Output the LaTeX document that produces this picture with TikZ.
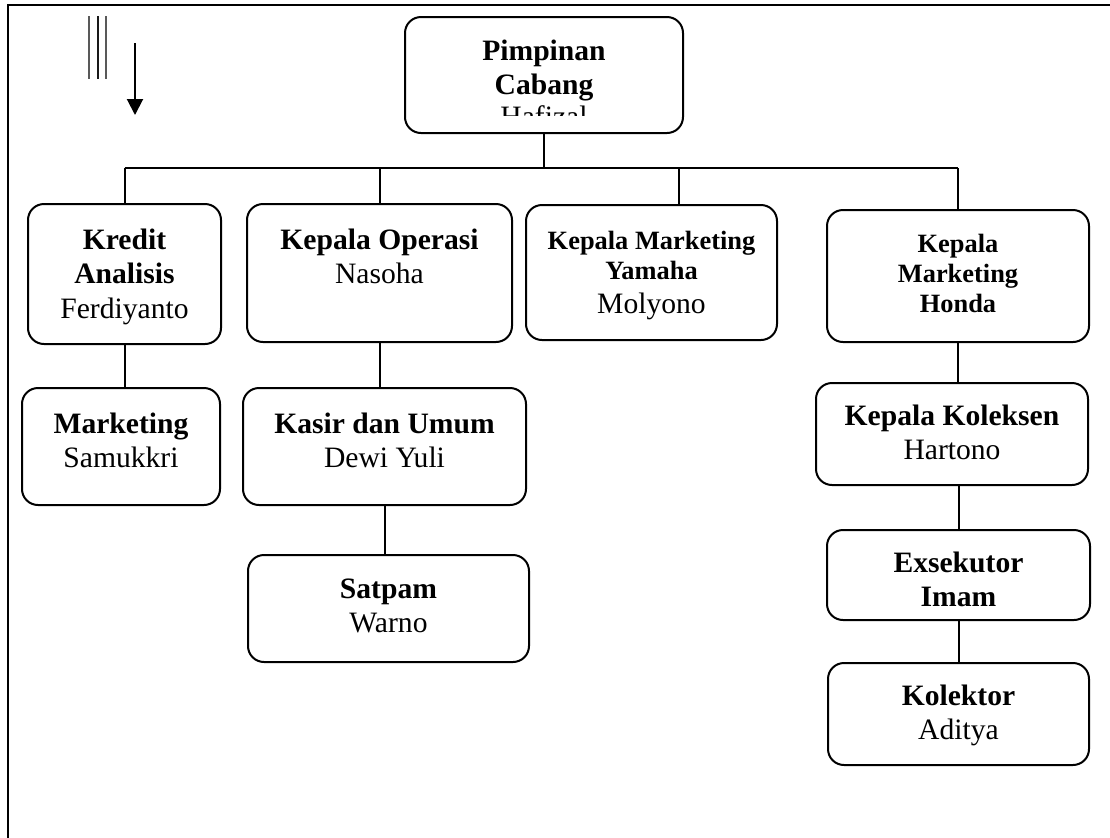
\documentclass[tikz,border=0pt]{standalone}
\usepackage{fontspec}
\setmainfont{Liberation Serif}
\usetikzlibrary{arrows.meta}

\newcommand{\boxfont}{\fontsize{14.8}{17.25}\selectfont}
\newcommand{\boxfontsm}{\fontsize{13.2}{15}\selectfont}

\tikzset{
    unit/.style={draw, rounded corners=8pt, line width=1pt, align=flush center, inner sep=0pt, anchor=base, font=\boxfont},
    link/.style={line width=1pt},
}

\begin{document}
\begin{tikzpicture}[x=0.5pt, y=-0.5pt]
    \useasboundingbox (0,0) rectangle (1110,837);
    % Bingkai
    \draw[line width=1.2pt] (8,840) -- (8,5) -- (1112,5);

    % Tanda di pojok kiri atas
    \foreach \xx/\cc in {89/black!65, 98/black!90, 106/black!65}
        \draw[\cc, line width=1.4pt] (\xx,16) -- (\xx,79);
    \coordinate (panah-a) at (135,43);
    \coordinate (panah-b) at (135,115);
    \draw[line width=1pt, -{Triangle[width=8pt,length=8pt]}] (panah-a) -- (panah-b);

    % Pimpinan
    \node[unit, text width=139pt, text height=21.5pt, text depth=36.5pt] (pimpinan) at (544,60) {\textbf{Pimpinan}\\\textbf{Cabang}};
    \begin{scope}
        \clip (405,17) rectangle (683,115);
        \node[font=\boxfont, anchor=base] (hafizal) at (544,126) {Hafizal};
    \end{scope}

    % Baris pertama
    \node[unit, text width=96.5pt, text height=22.5pt, text depth=47.5pt] (kredit) at (124.5,249) {\textbf{Kredit}\\\textbf{Analisis}\\Ferdiyanto};
    \node[unit, text width=132.5pt, text height=22.5pt, text depth=46.5pt] (operasi) at (379.5,249) {\textbf{Kepala Operasi}\\Nasoha};
    \node[unit, font=\boxfontsm, text width=125.5pt, text height=22pt, text depth=45.5pt] (yamaha) at (651.5,249) {\textbf{Kepala Marketing}\\\textbf{Yamaha}\\[2pt]{\boxfont Molyono}};
    \node[unit, font=\boxfontsm, text width=131pt, text height=21pt, text depth=45pt] (honda) at (958,252) {\textbf{Kepala}\\\textbf{Marketing}\\\textbf{Honda}};

    % Baris bawah
    \node[unit, text width=99pt, text height=22.5pt, text depth=36pt] (marketing) at (121,433) {\textbf{Marketing}\\Samukkri};
    \node[unit, text width=141.5pt, text height=22.5pt, text depth=36pt] (kasir) at (384.5,433) {\textbf{Kasir dan Umum}\\Dewi Yuli};
    \node[unit, text width=140.5pt, text height=21.5pt, text depth=32pt] (satpam) at (388.5,598) {\textbf{Satpam}\\Warno};
    \node[unit, text width=136pt, text height=21pt, text depth=30pt] (koleksen) at (952,425) {\textbf{Kepala Koleksen}\\Hartono};
    \node[unit, text width=131.5pt, text height=21pt, text depth=24pt] (eksekutor) at (958.5,572) {\textbf{Exsekutor}\\\textbf{Imam}};
    \node[unit, text width=130.5pt, text height=21pt, text depth=30pt] (kolektor) at (958.5,705) {\textbf{Kolektor}\\Aditya};

    % Garis hubung
    \coordinate (bus) at (544,168);
    \coordinate (yamaha-in) at ([xshift=13.75pt]yamaha.north);
    \draw[link] (pimpinan.south) -- (bus);
    \draw[link] (kredit.north |- bus) -- (honda.north |- bus);
    \foreach \n in {kredit, operasi, yamaha-in, honda}
        \draw[link] (\n |- bus) -- (\n.north);
    \draw[link] (kredit.south) -- (kredit.south |- marketing.north);
    \draw[link] (operasi.south) -- (operasi.south |- kasir.north);
    \draw[link] (kasir.south) -- (kasir.south |- satpam.north);
    \draw[link] (honda.south) -- (honda.south |- koleksen.north);
    \draw[link] (eksekutor.north |- koleksen.south) -- (eksekutor.north);
    \draw[link] (kolektor.north |- eksekutor.south) -- (kolektor.north);
\end{tikzpicture}
\end{document}
